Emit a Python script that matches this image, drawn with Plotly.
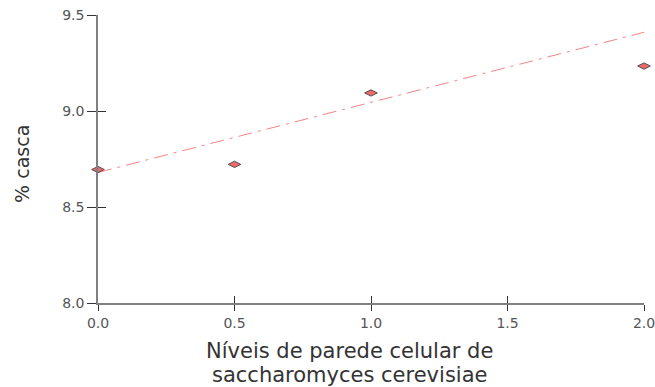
import plotly.graph_objects as go

# Data
levels = [0.0, 0.5, 1.0, 2.0]
casca = [8.695, 8.722, 9.094, 9.234]

# Trend line end points (as drawn in the reference)
trend_x = [0.0, 2.0]
trend_y = [8.68, 9.41]

x_ticks = [0.0, 0.5, 1.0, 1.5, 2.0]
x_ticklabels = ["0.0", "0.5", "1.0", "1.5", "2.0"]
y_ticks = [8.0, 8.5, 9.0, 9.5]
y_ticklabels = ["8.0", "8.5", "9.0", "9.5"]

x_title_lines = ["Níveis de parede celular de", "saccharomyces cerevisiae"]
y_title = "% casca"

font_family = "DejaVu Sans, Verdana, sans-serif"

fig = go.Figure()

fig.add_trace(go.Scatter(
    x=trend_x, y=trend_y, mode="lines",
    line=dict(color="rgba(240,80,80,0.7)", width=1, dash="14px,6px,3px,6px"),
    hoverinfo="skip", showlegend=False,
))

fig.add_trace(go.Scatter(
    x=levels, y=casca, mode="markers",
    marker=dict(symbol="diamond-wide", size=9, color="#f06868",
                line=dict(color="#505050", width=1)),
    showlegend=False, cliponaxis=False,
))

# invisible trace on secondary axes to draw the inner half of the ticks
fig.add_trace(go.Scatter(x=[None], y=[None], xaxis="x2", yaxis="y2",
                         showlegend=False, hoverinfo="skip"))

axis_common = dict(
    showgrid=False, zeroline=False, showline=True, automargin=False,
    linecolor="#808080", linewidth=1.5,
    ticks="outside", tickcolor="#333333", tickwidth=1,
    ticklabeloverflow="allow",
    tickfont=dict(family=font_family, size=14, color="#555555"),
)

fig.update_layout(
    width=655, height=387,
    margin=dict(l=98, r=11, t=15, b=84),
    paper_bgcolor="white", plot_bgcolor="white",
    xaxis=dict(range=[0, 2], tickvals=x_ticks, ticktext=x_ticklabels,
               ticklen=6, **axis_common),
    yaxis=dict(range=[8, 9.5], tickvals=y_ticks, ticktext=y_ticklabels,
               ticklen=9, **axis_common),
    xaxis2=dict(overlaying="x", matches="x", range=[0, 2], tickvals=x_ticks,
                showticklabels=False, ticks="inside", ticklen=7, automargin=False,
                tickcolor="#333333", showline=False, showgrid=False,
                zeroline=False, side="bottom", anchor="y2"),
    yaxis2=dict(overlaying="y", matches="y", range=[8, 9.5], tickvals=y_ticks,
                showticklabels=False, ticks="inside", ticklen=8, automargin=False,
                tickcolor="#333333", showline=False, showgrid=False,
                zeroline=False, side="left", anchor="x2"),
)

title_font = dict(family=font_family, size=21, color="#333333")

# x-axis title (two lines)
fig.add_annotation(text=x_title_lines[0], xref="paper", yref="paper",
                   x=0.46, y=0, yshift=-47.5, xanchor="center", yanchor="middle",
                   showarrow=False, borderpad=0, font=title_font)
fig.add_annotation(text=x_title_lines[1], xref="paper", yref="paper",
                   x=0.46, y=0, yshift=-72, xanchor="center", yanchor="middle",
                   showarrow=False, borderpad=0, font=title_font)

# y-axis title
fig.add_annotation(text=y_title, xref="paper", yref="paper",
                   x=0, xshift=-76, y=0.483, xanchor="center", yanchor="middle",
                   textangle=-90, showarrow=False,
                   font=dict(family=font_family, size=19, color="#333333"))

fig.write_html("out.html",
               config={"displayModeBar": False},
               post_script="document.body.style.margin='0';"
                           "document.body.style.padding='0';")
